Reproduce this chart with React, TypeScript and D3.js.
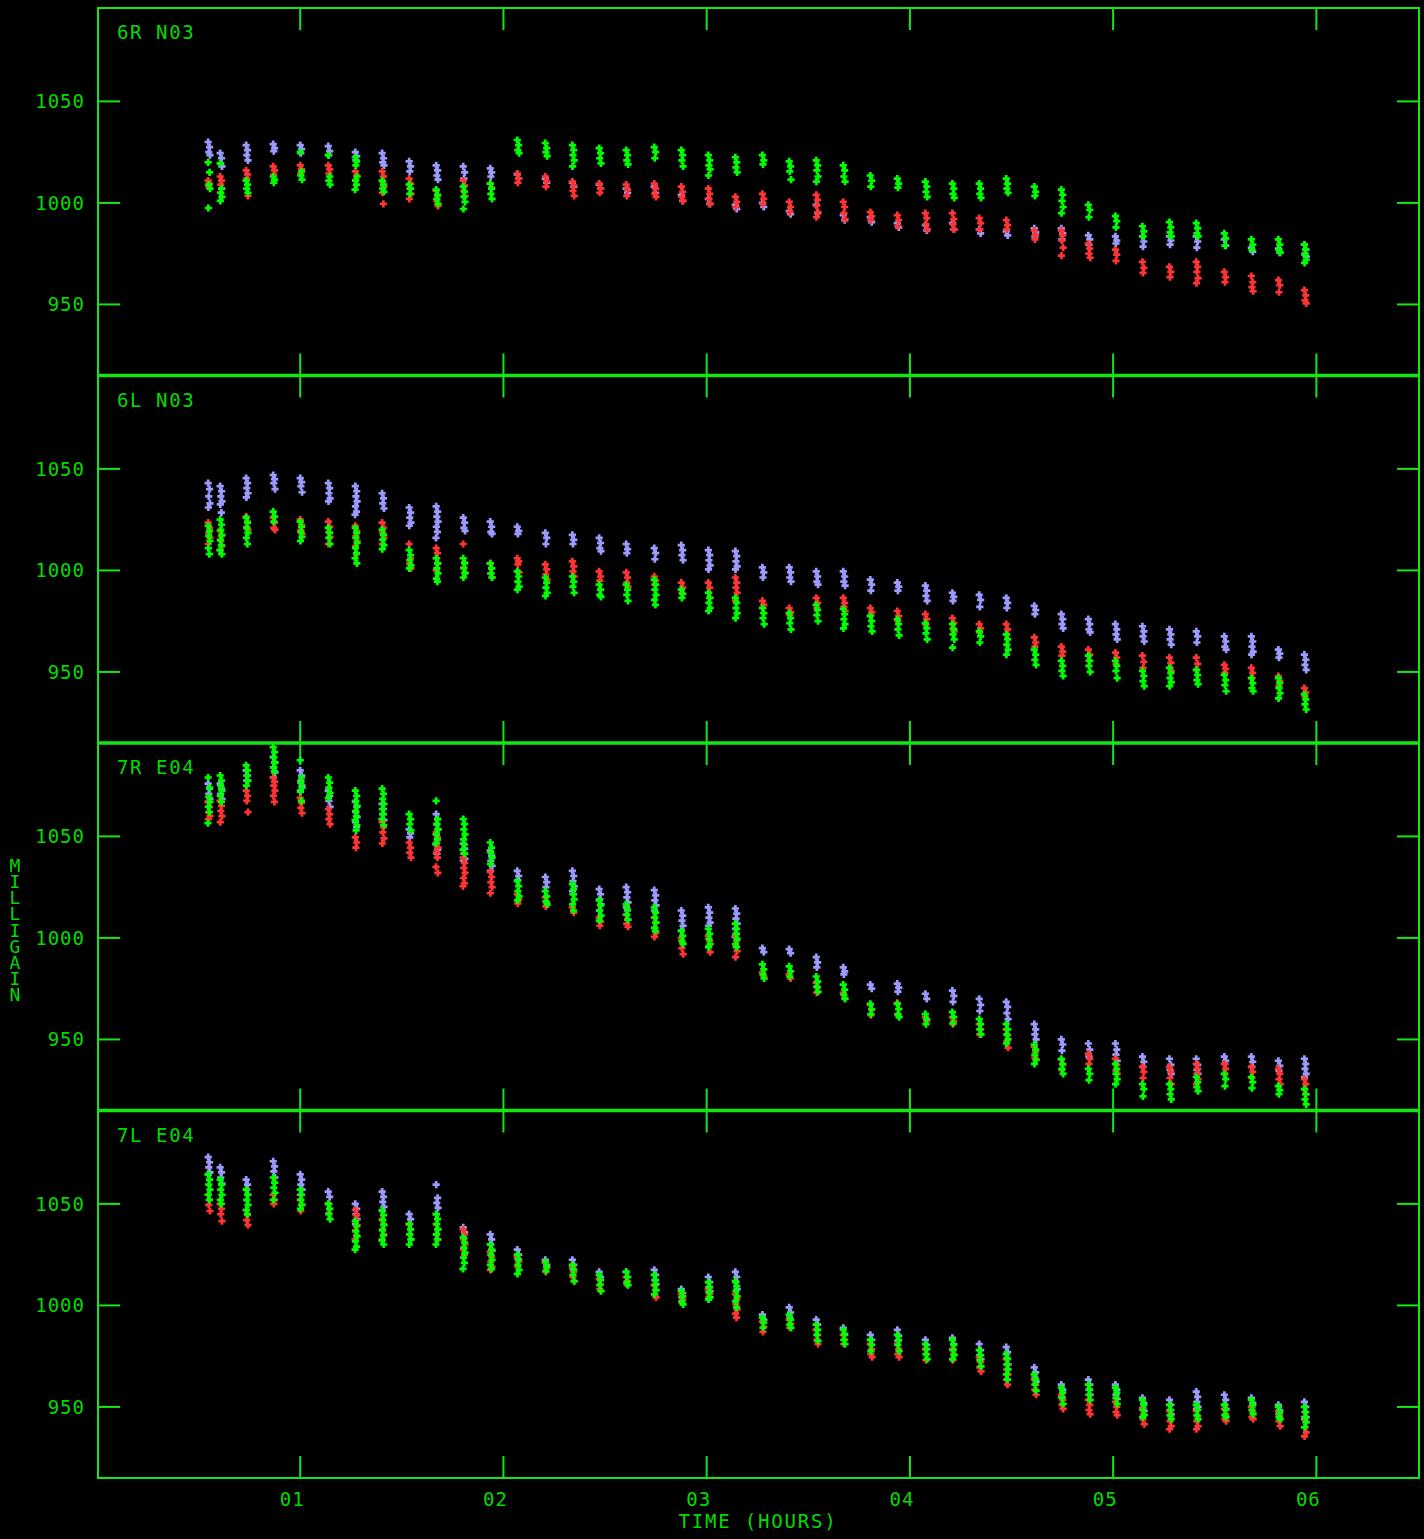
import React from "react";
import * as d3 from "d3";

// ---------- data ----------
const scanHours = [
  0.551, 0.61, 0.738, 0.871, 1.004, 1.142, 1.275, 1.407, 1.54, 1.673, 1.806, 1.939, 2.072, 2.21,
  2.343, 2.475, 2.608, 2.746, 2.879, 3.012, 3.145, 3.278, 3.41, 3.543, 3.676, 3.809, 3.942, 4.08,
  4.213, 4.345, 4.478, 4.616, 4.749, 4.882, 5.015, 5.148, 5.281, 5.413, 5.551, 5.684, 5.817, 5.945,
];
// time offsets (hours) of the successive samples inside one scan
const sampleOffsetsH = [-0.004, 0.003, -0.001, 0.005, -0.003, 0.002, -0.005, 0.004, 0.0];

const panelLabels = ["6R N03", "6L N03", "7R E04", "7L E04"];
const yTicks = [950, 1000, 1050];
const xTicks = [1, 2, 3, 4, 5, 6];
const xTickLabels = ["01", "02", "03", "04", "05", "06"];
const yDomain = [915.0, 1096];
const xDomain = [0.005, 6.505];
const yTitle = "MILLIGAIN";
const xTitle = "TIME (HOURS)";

// Panel 1: 6R N03
const p1Lav = [
  [1030, 1027.5, 1025, 1023.5], [1024.5, 1022, 1019.5, 1018], [1028.5, 1026, 1023.5, 1021], [1029, 1027, 1025.5],
  [1028.5, 1026.5, 1024.5], [1028, 1025.5, 1023.5], [1025, 1023, 1021], [1024.5, 1022, 1020, 1018.5],
  [1020.5, 1018, 1015.5], [1018.5, 1016, 1013.5, 1011.5], [1018, 1015, 1012], [1017, 1015, 1013],
  [1014, 1012], [1012, 1010], [1010, 1008], [1009, 1007], [1007, 1005], [1008, 1005], [1004, 1001],
  [1002, 999.5], [999, 997], [1000, 998], [996, 994.5], [999, 995], [994, 991.5], [993, 990.5],
  [990, 988], [989, 986.5], [990, 987], [987, 985], [986, 984], [987.5, 985.5, 983.5], [987.5, 985, 982],
  [984, 982, 979.5], [983.5, 981.5, 980], [983.5, 981, 978.5], [983.5, 981.5, 979.5], [983.5, 981, 978],
  [982, 979], [978, 976], [977.5, 975.5], [979.5, 977, 975, 973.5],
];
const p1Red = [
  [1011, 1009.5, 1008], [1013, 1011, 1009, 1007, 1005], [1016, 1014, 1012, 1003.5], [1018, 1016, 1014],
  [1018.5, 1016.5, 1014.5], [1018.5, 1016.5, 1014.5], [1015.5, 1013.5, 1011.5], [1015.5, 1013, 1010.5, 1008, 1005, 999.5],
  [1012, 1009.5, 1007, 1004.5, 1002], [1006, 1003.5, 1001, 998.5], [1011, 1008.5, 1006, 1003.5], [1009.5, 1007.5],
  [1014.5, 1012, 1010], [1013, 1010.5, 1008], [1010.5, 1008.5, 1006, 1003.5], [1009.5, 1007, 1005],
  [1009, 1006.5, 1003.5], [1009.5, 1007, 1004.5, 1003], [1008, 1005.5, 1003, 1001], [1007, 1004.5, 1002, 999.5],
  [1003, 1000.5, 998], [1004.5, 1002, 999.5], [1000.5, 998, 995.5], [1004, 1001.5, 998.5, 995.5, 993],
  [1000.5, 998, 995, 992], [995.5, 993.5, 991.5], [994, 991.5, 988.5], [995, 992.5, 989.5, 987],
  [995, 992, 989.5, 987], [992.5, 990, 987], [991.5, 989, 987], [986.5, 984, 982], [986.5, 984, 981.5, 978, 974],
  [980, 977.5, 975, 973], [977, 974.5, 971.5], [971, 968, 965.5], [968.5, 966, 963.5], [971, 968.5, 966, 963, 960.5],
  [966, 963.5, 961], [964, 961, 958.5, 956.5], [962, 959.5, 956], [957, 954.5, 952, 950.5],
];
const p1Grn = [
  [1020, 1015, 1009, 1007, 997.5], [1019.5, 1007, 1005, 1003, 1001], [1011, 1009, 1007, 1005], [1013, 1011.5, 1010],
  [1025, 1015.5, 1013.5, 1011.5], [1023.5, 1013, 1011, 1009], [1022.5, 1020.5, 1018.5, 1013, 1011, 1009, 1006.5],
  [1011, 1009, 1007, 1005.5], [1009, 1007, 1004.5], [1006.5, 1004, 1002, 999.5], [1008, 1005.5, 1003, 1000.5, 997],
  [1009.5, 1007, 1004.5, 1002], [1031, 1028.5, 1026, 1024.5], [1029.5, 1027, 1025, 1023],
  [1028.5, 1026, 1023.5, 1021, 1018], [1027, 1024.5, 1022, 1019.5], [1026, 1023.5, 1021, 1019], [1027.5, 1025, 1022],
  [1026, 1023.5, 1021, 1018], [1023.5, 1021, 1018.5, 1016.5, 1013.5], [1022.5, 1020, 1017.5, 1015], [1023.5, 1021, 1019],
  [1020.5, 1018, 1015.5, 1011.5], [1021, 1018.5, 1016, 1013, 1010.5], [1018.5, 1016, 1013, 1010.5], [1013.5, 1011, 1008],
  [1012, 1009.5, 1007.5], [1010.5, 1008, 1005.5, 1003], [1009.5, 1007, 1004.5, 1002.5], [1009.5, 1007, 1004.5, 1002.5],
  [1012, 1009.5, 1007, 1005], [1008, 1005.5, 1003.5], [1006.5, 1004, 1001, 998, 995], [999, 996.5, 993],
  [993.5, 991, 988], [988.5, 986, 983.5], [990.5, 988, 985.5, 983.5], [990, 987.5, 985, 983.5], [985, 982.5, 979],
  [982, 979.5, 977], [982, 979.5, 977, 975.5], [979.5, 977, 974.5, 972, 970.5],
];

// Panel 2: 6L N03
const p2Lav = [
  [1043, 1040, 1036.5, 1033, 1031], [1041.5, 1039, 1036.5, 1034, 1032.5, 1028.5], [1045.5, 1043, 1040.5, 1038, 1036],
  [1047, 1045, 1043, 1040], [1045.5, 1043.5, 1041.5, 1038.5], [1043, 1040.5, 1038, 1035.5, 1034],
  [1041.5, 1039, 1036.5, 1034, 1031.5, 1029, 1027.5], [1038, 1035.5, 1033, 1030.5], [1031, 1028.5, 1026, 1023.5, 1022],
  [1031.5, 1029, 1026.5, 1024, 1021.5, 1019, 1016], [1026, 1023.5, 1021, 1019.5], [1024, 1021.5, 1019, 1018],
  [1021.5, 1019.5, 1018], [1018.5, 1016, 1013], [1017.5, 1015, 1013], [1016, 1013.5, 1011, 1009.5], [1013, 1010.5, 1008.5],
  [1011, 1008.5, 1005.5], [1012.5, 1010, 1007.5, 1005], [1010, 1007.5, 1005, 1002.5, 1000.5], [1009.5, 1007, 1004.5, 1002, 1000.5],
  [1001.5, 999, 996.5], [1001.5, 999, 996.5, 994.5], [999.5, 997, 994.5, 993], [999.5, 997, 994.5, 992.5], [995.5, 993, 990],
  [994, 992, 990], [992.5, 990, 987.5, 985], [989, 987, 985], [988, 985.5, 982], [986.5, 984, 981.5], [982.5, 980.5, 978.5],
  [978.5, 976, 973.5, 971.5], [976, 973.5, 971, 969.5], [973.5, 971, 968.5, 966], [972.5, 970, 967.5, 965],
  [971, 968.5, 966, 963.5], [970, 967.5, 964.5], [967.5, 965, 962.5, 961], [967.5, 965, 962.5, 960, 958.5],
  [961, 959, 957], [958.5, 956, 953.5, 951],
];
const p2Red = [
  [1023.5, 1021, 1018.5, 1016, 1013], [1019.5, 1017, 1014.5, 1012, 1010], [1026.5, 1024, 1021.5, 1020], [1026, 1023.5, 1021, 1020],
  [1025, 1022.5, 1020, 1018], [1024, 1021.5, 1019, 1016.5, 1013], [1022, 1019.5, 1017, 1014.5, 1012, 1008],
  [1023.5, 1021, 1018.5, 1016, 1013], [1013, 1006, 1003.5, 1001], [1011, 1008.5, 1006, 1003.5, 1000], [1013, 1004, 1001.5, 999],
  [1003.5, 1001, 998.5, 996.5], [1006, 1004.5, 1003, 999], [1003, 1000.5, 998, 995.5], [1004.5, 1002, 999.5, 997],
  [999.5, 997, 995], [999, 996.5, 994, 992], [997, 995, 993], [994, 991.5, 989], [994, 991.5, 989, 986.5],
  [996.5, 994, 991.5, 989, 985], [985, 983, 981.5], [981.5, 979.5, 978], [986.5, 984, 981.5], [986.5, 984, 982, 980],
  [981.5, 979.5, 978], [980, 977.5, 975], [978.5, 976, 973], [976.5, 974, 971.5, 970], [973.5, 971.5, 969.5],
  [973.5, 971, 968.5], [967, 964.5, 962.5], [962.5, 960, 958], [961, 958.5, 955.5], [959.5, 957, 954], [958, 955, 952],
  [957, 954.5, 952, 950.5], [957, 954, 951], [953.5, 951.5, 949.5], [952, 949.5, 947], [948, 945.5, 943], [942, 940, 938],
];
const p2Grn = [
  [1022, 1019.5, 1017, 1014.5, 1011, 1008], [1025, 1022.5, 1020, 1017.5, 1015, 1012.5, 1010, 1008],
  [1026, 1023.5, 1021, 1018.5, 1016, 1013], [1029, 1026.5, 1024], [1024, 1021.5, 1019, 1016.5, 1014.5],
  [1021, 1018.5, 1016, 1013], [1021, 1018.5, 1016, 1013.5, 1011, 1008.5, 1006, 1003.5], [1020, 1017.5, 1015, 1012.5, 1010.5],
  [1010, 1007.5, 1005, 1002.5, 1001], [1006, 1003.5, 1001, 998.5, 996, 994.5], [1006, 1003.5, 1001, 998.5, 996.5],
  [1003.5, 1001, 998.5, 996.5], [999.5, 997, 994.5, 992, 990.5], [996.5, 994, 991.5, 989, 987.5], [997, 994.5, 992, 989],
  [993, 990.5, 988, 987], [993, 990.5, 988, 985], [995.5, 993, 990.5, 988, 985.5, 983], [990.5, 988.5, 986.5],
  [989, 986.5, 984, 981.5, 980], [986.5, 984, 981.5, 979, 976.5], [981.5, 979, 976.5, 973.5], [979, 976.5, 974, 971],
  [983, 980.5, 978, 975], [981, 978.5, 976, 973.5, 971.5], [977.5, 975, 972.5, 970], [976, 973.5, 971, 968],
  [974, 971.5, 969, 966], [973.5, 971, 968.5, 966, 962], [970, 967.5, 964.5], [968.5, 966, 963.5, 961, 958.5],
  [961, 958.5, 956, 953.5], [955.5, 953, 950.5, 948], [958, 955.5, 953, 950], [955.5, 953, 950.5, 947],
  [950.5, 948, 945.5, 943], [952, 949.5, 947, 945, 943], [951, 948.5, 946, 944], [948.5, 946, 943.5, 940.5],
  [947, 944.5, 942, 940.5], [947, 944.5, 942, 939.5, 937], [939, 936.5, 934, 931.5],
];

// Panel 3: 7R E04
const p3Lav = [
  [1076, 1073.5, 1071, 1068.5, 1067], [1076, 1073.5, 1071, 1068.5], [1082.5, 1080, 1077.5], [1089, 1086.5, 1084, 1081.5, 1079],
  [1082.5, 1080, 1077.5, 1075, 1072.5], [1072.5, 1070, 1067.5, 1064.5], [1067, 1064.5, 1062, 1059.5, 1057, 1054.5],
  [1066, 1063.5, 1061, 1058], [1053.5, 1051.5, 1049.5], [1061, 1058.5, 1056, 1053.5, 1051, 1048.5, 1046, 1043.5, 1041.5],
  [1046.5, 1044, 1041.5, 1039, 1038], [1043, 1040.5, 1038, 1035.5, 1033], [1033, 1030.5, 1028.5], [1030, 1027.5, 1025],
  [1033, 1030.5, 1028, 1025.5, 1023, 1021.5], [1024, 1021.5, 1019, 1016.5, 1013.5], [1025, 1022.5, 1020, 1017.5, 1015, 1013.5],
  [1023.5, 1021, 1018.5, 1016, 1013.5], [1013.5, 1011, 1008.5, 1006, 1003.5], [1015, 1012.5, 1010, 1007.5, 1006],
  [1014.5, 1012, 1009.5, 1007, 1004.5, 1002, 1000.5], [995, 993], [994.5, 992.5], [990.5, 988, 985.5], [985.5, 983.5, 982],
  [977, 975], [977.5, 975.5, 973.5], [972.5, 970], [974, 971.5, 968.5], [970, 967, 964], [968.5, 966, 963, 960],
  [957.5, 955, 952.5, 950], [950, 947.5, 944.5], [948, 945, 941.5], [948, 945, 942.5, 939.5], [941.5, 939, 936.5],
  [940.5, 937.5, 935, 933], [940.5, 937.5, 935, 933], [941.5, 939.5, 938], [941.5, 939, 936.5], [939.5, 937, 934.5],
  [940.5, 938, 935.5, 933, 931.5],
];
const p3Red = [
  [1067, 1064.5, 1062, 1060, 1058.5], [1067.5, 1065, 1062.5, 1060, 1057], [1072.5, 1070, 1067.5, 1062],
  [1079, 1077, 1075, 1072.5, 1070, 1067], [1069, 1066.5, 1064, 1061.5], [1063.5, 1061, 1058.5, 1056], [1049.5, 1047, 1044.5],
  [1057, 1054.5, 1052, 1049, 1046.5], [1047, 1044.5, 1042, 1039.5], [1052, 1049.5, 1047, 1044.5, 1042, 1039.5, 1035, 1032],
  [1039.5, 1037, 1034.5, 1032, 1029.5, 1027, 1025.5], [1032.5, 1030, 1027.5, 1025, 1022], [1021.5, 1019, 1017],
  [1020, 1017.5, 1015.5], [1015, 1012.5], [1010, 1008, 1006], [1011.5, 1009, 1007, 1005.5], [1010, 1007.5, 1005, 1002.5, 1000.5],
  [1000, 997.5, 995, 992], [1001, 998.5, 996, 993], [1001, 998.5, 996, 993.5, 990.5], [983, 981], [982, 980],
  [978, 975.5, 973], [973, 970.5], [967, 964.5, 962], [968, 965, 962], [961, 959], [961, 959, 957.5], [957.5, 955, 952.5],
  [955, 952, 949, 946], [946.5, 944, 941, 940], [940, 937.5, 935], [943, 940.5, 938], [940.5, 937.5, 934.5, 933],
  [936.5, 934, 931], [936.5, 934, 931, 928], [938, 935.5, 933, 930.5, 928], [938, 935.5, 933], [936.5, 934, 931],
  [935.5, 933, 930.5, 928], [930.5, 928, 925.5, 923],
];
const p3Grn = [
  [1079, 1074, 1069.5, 1067, 1064.5, 1062, 1056.5], [1080, 1077.5, 1075, 1072.5, 1070, 1067], [1085, 1082.5, 1080, 1077.5, 1075],
  [1094, 1091.5, 1089, 1086.5, 1084, 1082], [1087.5, 1079, 1076.5, 1074, 1072, 1067.5], [1079, 1076.5, 1074, 1071.5, 1069],
  [1072.5, 1070, 1067.5, 1065, 1062.5, 1060, 1058, 1055.5, 1053], [1073.5, 1071, 1068.5, 1066, 1063.5, 1061, 1058.5, 1055.5],
  [1061, 1058.5, 1056, 1053], [1067.5, 1058.5, 1056, 1053.5, 1051, 1048.5, 1046.5],
  [1058.5, 1056, 1053.5, 1051, 1048.5, 1046, 1043.5, 1041.5], [1047, 1044.5, 1042, 1039.5, 1036.5],
  [1028, 1025.5, 1023, 1020.5, 1018.5], [1023, 1020.5, 1018, 1016.5], [1026.5, 1024, 1021.5, 1019, 1016.5, 1013.5],
  [1018.5, 1016, 1013.5, 1011, 1008.5], [1016.5, 1014, 1011.5, 1009], [1015, 1012.5, 1010, 1007.5, 1005, 1003.5],
  [1003.5, 1001, 998.5, 997], [1004.5, 1002, 999.5, 997, 995.5], [1007, 1004.5, 1002, 999.5, 997, 995.5],
  [987, 984.5, 982, 980], [986, 983.5, 981], [981, 978.5, 976, 973.5], [977, 974.5, 972, 970], [967.5, 965, 962.5],
  [967.5, 965, 962.5, 961], [962.5, 960, 957.5], [963.5, 961, 958], [960, 957.5, 955, 952.5], [957.5, 955, 952.5, 950, 948],
  [947.5, 945, 942.5, 940, 938], [940.5, 938, 935.5, 933], [935.5, 933, 930], [938, 935.5, 933, 930.5, 928],
  [928, 925.5, 922], [928, 925.5, 923, 920.5], [931.5, 929, 926.5, 924.5], [933, 930.5, 927], [931.5, 929, 926],
  [927, 925, 923], [925.5, 923, 920.5, 918],
];

// Panel 4: 7L E04
const p4Lav = [
  [1073, 1070.5, 1068, 1065.5, 1064.5], [1068, 1065.5, 1063, 1060], [1062, 1059.5, 1057, 1054.5], [1071, 1068.5, 1066, 1063],
  [1064.5, 1062, 1059.5, 1057, 1054.5], [1056, 1053.5, 1050], [1050, 1047.5, 1045, 1042.5, 1040], [1056, 1053.5, 1051, 1048.5, 1046.5],
  [1045, 1042.5, 1040], [1059.5, 1053, 1050.5, 1048, 1045], [1038.5, 1036, 1033], [1035, 1032.5, 1030, 1027],
  [1027.5, 1025, 1023], [1022.5, 1020], [1022.5, 1020, 1018], [1016.5, 1014, 1013], [1016.5, 1014], [1017.5, 1015, 1012.5, 1010.5],
  [1008, 1006, 1004], [1014, 1011.5, 1009, 1007], [1016.5, 1014, 1011.5, 1008], [995.5, 993], [999, 996.5, 994],
  [993, 990.5, 988], [989, 986], [985.5, 983, 981], [988, 985, 982.5], [983, 980.5, 978.5], [984, 981, 978.5],
  [981, 978, 975.5, 973.5], [979.5, 977, 974, 971], [969.5, 967, 964.5, 962.5], [961, 958.5, 955], [963.5, 961, 958.5, 956],
  [961, 958.5, 956, 954], [954.5, 952, 949.5, 948], [953.5, 951, 948.5, 946.5], [957.5, 955, 952.5, 950, 949],
  [956, 953.5, 951, 949], [954.5, 952, 950], [951, 948.5, 946.5], [952.5, 950, 947.5, 945, 944],
];
const p4Red = [
  [1054.5, 1052, 1049.5, 1046.5], [1050, 1047.5, 1045, 1041.5], [1047, 1044.5, 1042, 1039.5], [1054.5, 1052, 1050],
  [1052, 1049.5, 1046.5], [1050, 1047.5, 1045.5], [1047, 1044.5, 1042, 1039.5, 1037, 1034.5, 1032.5],
  [1042.5, 1040, 1037.5, 1035, 1032.5], [1040, 1037.5, 1035, 1032.5], [1040, 1037.5, 1035, 1032.5],
  [1037.5, 1035, 1032.5, 1030, 1027.5, 1025], [1026.5, 1024, 1021.5, 1019, 1017.5], [1024, 1021.5, 1019], [1021, 1018.5, 1016.5],
  [1019, 1016.5, 1014, 1012], [1013, 1010.5, 1008], [1014, 1012, 1010.5], [1010, 1007.5, 1005, 1004], [1005.5, 1003, 1001.5],
  [1008, 1005.5, 1004], [1005.5, 1003, 1000.5, 998, 996, 994], [992, 989.5, 987], [993, 991, 989], [988, 985.5, 983, 981],
  [985.5, 983, 981], [981, 978.5, 976, 974.5], [981, 978.5, 976, 974.5], [978.5, 976, 973], [978.5, 976, 973],
  [974.5, 972, 969.5, 967.5], [973.5, 971, 968.5, 966, 963.5, 961], [963.5, 961, 958.5, 956], [956, 953.5, 951, 949],
  [953.5, 951, 948.5, 946.5], [952.5, 950, 947.5, 946], [949, 946.5, 944, 941.5], [948, 945.5, 943, 940.5, 939],
  [948, 945.5, 943, 940.5, 939], [949, 946.5, 944, 943], [950, 947.5, 945, 944], [948, 945.5, 943, 940.5],
  [945, 942.5, 940, 937.5, 935.5],
];
const p4Grn = [
  [1064.5, 1062, 1059.5, 1057, 1054.5, 1052], [1062, 1059.5, 1057, 1054.5, 1052, 1050], [1057, 1054.5, 1052, 1049.5, 1047, 1045],
  [1063, 1060.5, 1058, 1055.5, 1052], [1057, 1054.5, 1052, 1049.5, 1047.5], [1050, 1047.5, 1045, 1042.5],
  [1041.5, 1039, 1036.5, 1034, 1031.5, 1029, 1027.5], [1047, 1044.5, 1042, 1039.5, 1037, 1034.5, 1032, 1030],
  [1040, 1037.5, 1035, 1032.5, 1030], [1045, 1042.5, 1040, 1037.5, 1035, 1032.5, 1030],
  [1033.5, 1031, 1028.5, 1026, 1023.5, 1021, 1018], [1030, 1027.5, 1025, 1022.5, 1020, 1018], [1025, 1022.5, 1020, 1017.5, 1015.5],
  [1021.5, 1019, 1017], [1020, 1017.5, 1015, 1012], [1015, 1012.5, 1010, 1007], [1016.5, 1014, 1011.5, 1010],
  [1015, 1012.5, 1010, 1007.5, 1005.5], [1007, 1004.5, 1002, 1000.5], [1011.5, 1009, 1006.5, 1004, 1003],
  [1012, 1009.5, 1007, 1004.5, 1002, 999], [994, 991.5, 989], [995.5, 993, 990.5, 989], [990.5, 988, 985.5, 982.5],
  [988, 985.5, 983, 981], [983, 980.5, 977.5], [985.5, 983, 980.5, 977.5], [981, 978.5, 976, 973.5],
  [983, 980.5, 978, 975.5, 973.5], [978, 975.5, 973, 970], [976, 973.5, 971, 968.5, 966, 963.5], [966, 963.5, 961, 958],
  [959.5, 957, 954.5, 951.5], [961, 958.5, 956, 953.5], [959.5, 957, 954.5, 951.5], [953.5, 951, 948.5, 946, 945],
  [951, 948.5, 946, 944], [951, 948.5, 946, 944], [951, 948.5, 946, 945], [953.5, 951, 948.5, 946.5], [950, 947.5, 945, 944],
  [950, 947.5, 945, 942.5, 940],
];

const panelSeries = [
  [p1Lav, p1Red, p1Grn],
  [p2Lav, p2Red, p2Grn],
  [p3Lav, p3Red, p3Grn],
  [p4Lav, p4Red, p4Grn],
];
const seriesColors = ["#9c9cff", "#ff3535", "#00ff00"];

// ---------- layout ----------
const W = 1424;
const H = 1539;
const left = 98;
const right = 1419;
const top0 = 8;
const panelH = 367.5;
const tickLen = 22;
const axisColor = "#14e614";
const textColor = "#00dc00";
const font = "'DejaVu Sans Mono', 'Liberation Mono', monospace";

function Plus({ x, y, color }: { x: number; y: number; color: string }) {
  const a = 3.6;
  return (
    <path
      d={`M${x - a},${y}H${x + a}M${x},${y - a}V${y + a}`}
      stroke={color}
      strokeWidth={2.7}
      fill="none"
    />
  );
}

export default function App() {
  const x = d3.scaleLinear().domain(xDomain).range([left, right]);
  const bottom = top0 + panelH * 4;

  return (
    <div>
      <style>{`html,body{margin:0;padding:0;background:#000;}`}</style>
      <svg width={W} height={H} style={{ display: "block", background: "#000" }}>
        <rect x={0} y={0} width={W} height={H} fill="#000" />
        {panelSeries.map((series, pi) => {
          const pt = top0 + pi * panelH;
          const pb = pt + panelH;
          const y = d3.scaleLinear().domain(yDomain).range([pb, pt]);
          return (
            <g key={pi}>
              {xTicks.map((t) => (
                <g key={t}>
                  <line x1={x(t)} x2={x(t)} y1={pt} y2={pt + tickLen} stroke={axisColor} strokeWidth={2} />
                  <line x1={x(t)} x2={x(t)} y1={pb - tickLen} y2={pb} stroke={axisColor} strokeWidth={2} />
                </g>
              ))}
              {yTicks.map((t) => (
                <g key={t}>
                  <line x1={left} x2={left + tickLen} y1={y(t)} y2={y(t)} stroke={axisColor} strokeWidth={2} />
                  <line x1={right - tickLen} x2={right} y1={y(t)} y2={y(t)} stroke={axisColor} strokeWidth={2} />
                  <text
                    x={85}
                    y={y(t)}
                    dy="0.36em"
                    textAnchor="end"
                    fill={textColor}
                    fontFamily={font}
                    fontSize={19}
                    letterSpacing={1}
                  >
                    {t}
                  </text>
                </g>
              ))}
              <text x={117} y={pt + 31} fill={textColor} fontFamily={font} fontSize={19} letterSpacing={1.6}>
                {panelLabels[pi]}
              </text>
              {series.map((clusters, si) => (
                <g key={si}>
                  {clusters.map((vals, ci) =>
                    vals.map((v, k) => {
                      const t = scanHours[ci] + sampleOffsetsH[k % sampleOffsetsH.length];
                      return <Plus key={`${ci}-${k}`} x={x(t)} y={y(v)} color={seriesColors[si]} />;
                    })
                  )}
                </g>
              ))}
            </g>
          );
        })}
        <rect x={left} y={top0} width={right - left} height={bottom - top0} fill="none" stroke={axisColor} strokeWidth={2} />
        {[1, 2, 3].map((i) => (
          <line
            key={i}
            x1={left}
            x2={right}
            y1={top0 + i * panelH}
            y2={top0 + i * panelH}
            stroke={axisColor}
            strokeWidth={3.5}
          />
        ))}
        {xTicks.map((t, i) => (
          <text
            key={t}
            x={x(t) - 8}
            y={1506}
            textAnchor="middle"
            fill={textColor}
            fontFamily={font}
            fontSize={19}
            letterSpacing={1}
          >
            {xTickLabels[i]}
          </text>
        ))}
        <text x={758} y={1528} textAnchor="middle" fill={textColor} fontFamily={font} fontSize={19} letterSpacing={1.8}>
          {xTitle}
        </text>
        <text
          x={15}
          y={855}
          fill={textColor}
          fontFamily={font}
          fontSize={18}
          letterSpacing={-4.85}
          style={{ writingMode: "vertical-lr", textOrientation: "upright" } as React.CSSProperties}
        >
          {yTitle}
        </text>
      </svg>
    </div>
  );
}
